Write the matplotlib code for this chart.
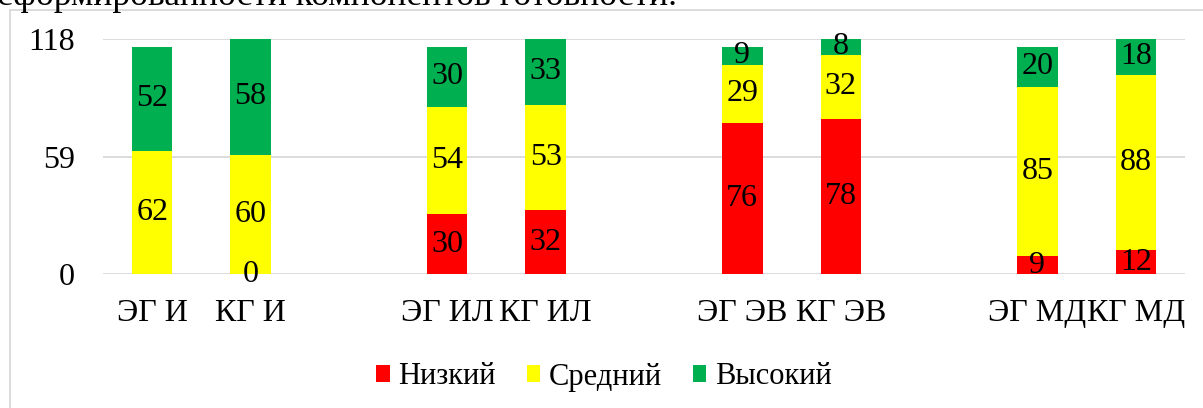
import numpy as np
import matplotlib
matplotlib.use("Agg")
import matplotlib.pyplot as plt
from matplotlib.patches import Rectangle

plt.rcParams['font.family'] = ['Liberation Serif', 'DejaVu Serif']

categories = ["ЭГ И", "КГ И", "", "ЭГ ИЛ", "КГ ИЛ", "", "ЭГ ЭВ", "КГ ЭВ", "", "ЭГ МД", "КГ МД"]
low = [np.nan, 0, np.nan, 30, 32, np.nan, 76, 78, np.nan, 9, 12]
mid = [62, 60, np.nan, 54, 53, np.nan, 29, 32, np.nan, 85, 88]
high = [52, 58, np.nan, 30, 33, np.nan, 9, 8, np.nan, 20, 18]
series_names = ["Низкий", "Средний", "Высокий"]
colors = ["#ff0000", "#ffff00", "#00b050"]
yticks = [0, 59, 118]
top_text = "сформированности компонентов готовности."

FS = 23
LFS = 22

fig = plt.figure(figsize=(12.03, 4.08), dpi=100)
ax = fig.add_axes([103/1203, 1-274/408, (1185-103)/1203, (274-39)/408])

x = np.arange(len(categories))
bottom = np.zeros(len(categories))
for name, vals, c in zip(series_names, [low, mid, high], colors):
    v = np.array(vals, dtype=float)
    vv = np.nan_to_num(v)
    ax.bar(x, vv, width=0.41, bottom=bottom, color=c, label=name, zorder=3)
    for xi, val, b in zip(x, v, bottom):
        if not np.isnan(val):
            ax.text(xi, b + val/2, f"{int(val)}", ha='center', va='center',
                    fontsize=FS, color='black', zorder=4)
    bottom = bottom + vv

ax.set_xlim(-0.5, len(categories) - 0.5)
ax.set_ylim(0, 118)
ax.set_yticks(yticks)
ax.set_yticklabels([str(t) for t in yticks], fontsize=FS)
ax.set_xticks(x)
ax.set_xticklabels(categories, fontsize=FS)
ax.tick_params(axis='both', length=0)
ax.tick_params(axis='y', pad=20)
ax.tick_params(axis='x', pad=18)
for s in ax.spines.values():
    s.set_visible(False)
ax.yaxis.grid(True, color='#d9d9d9', linewidth=1.3, zorder=0)
ax.set_axisbelow(True)

leg = fig.legend(loc='center', bbox_to_anchor=(604/1203, 1-377/408), ncol=3,
                 frameon=False, fontsize=LFS, handlelength=0.45, handleheight=0.45,
                 handletextpad=0.28, columnspacing=1.0)

fig.patches.append(Rectangle((10/1203, -0.1), 1.0, 1.1 - 10/408, transform=fig.transFigure,
                             fill=False, edgecolor='#d9d9d9', linewidth=1.3))
fig.text(677/1203, 1 - 5/408, top_text, fontsize=25.5, ha='right', va='baseline')

fig.savefig("out.png", dpi=100)
